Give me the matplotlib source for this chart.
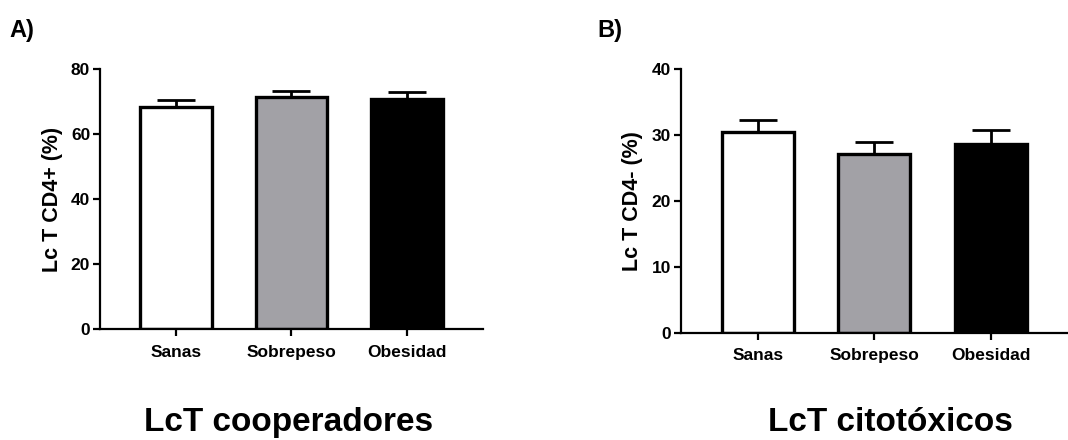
import matplotlib
matplotlib.use("Agg")
import matplotlib.pyplot as plt

plt.rcParams.update({
    'font.family': ['Liberation Sans', 'DejaVu Sans'],
    'font.weight': 'bold',
    'axes.labelweight': 'bold',
})

groups = ["Sanas", "Sobrepeso", "Obesidad"]
bar_colors = ["white", "#a2a1a6", "black"]

# LcT cooperadores (CD4+)
cd4_pos_mean = [68.3, 71.3, 70.8]
cd4_pos_err = [2.2, 2.0, 2.1]

# LcT citotoxicos (CD4-)
cd4_neg_mean = [30.45, 27.15, 28.7]
cd4_neg_err = [1.85, 1.75, 2.1]


def bar_panel(ax, means, errs, ymax, ystep, ylabel):
    x = range(len(groups))
    # one-sided (upper) error bars, GraphPad style
    ax.errorbar(x, means, yerr=[[0] * len(errs), errs], fmt='none',
                ecolor='black', elinewidth=2, capsize=13.5, capthick=2, zorder=1)
    ax.bar(x, means, width=0.62, color=bar_colors, edgecolor='black',
           linewidth=2.4, zorder=2)
    ax.set_xlim(-0.66, 2.66)
    ax.set_ylim(0, ymax)
    ax.set_yticks(range(0, ymax + 1, ystep))
    ax.set_xticks(list(x))
    ax.set_xticklabels(groups)
    ax.set_ylabel(ylabel, fontsize=15.5, labelpad=6)
    for s in ['top', 'right']:
        ax.spines[s].set_visible(False)
    for s in ['left', 'bottom']:
        ax.spines[s].set_linewidth(1.6)
    ax.tick_params(axis='y', labelsize=12.5, width=1.6, length=5, pad=2)
    ax.tick_params(axis='x', labelsize=12.5, width=1.6, length=5, pad=6)


fig = plt.figure(figsize=(10.68, 4.4), dpi=100)
ax1 = fig.add_axes([0.0936, 0.2516, 0.3586, 0.5916])
ax2 = fig.add_axes([0.6374, 0.2439, 0.3624, 0.5986])

bar_panel(ax1, cd4_pos_mean, cd4_pos_err, 80, 20, "Lc T CD4+ (%)")
bar_panel(ax2, cd4_neg_mean, cd4_neg_err, 40, 10, "Lc T CD4- (%)")

fig.text(0.009, 0.915, "A)", fontsize=17, fontweight='bold')
fig.text(0.559, 0.915, "B)", fontsize=17, fontweight='bold')
fig.text(0.27, 0.02, "LcT cooperadores", fontsize=24, fontweight='bold', ha='center')
fig.text(0.834, 0.02, "LcT citotóxicos", fontsize=24, fontweight='bold', ha='center')

fig.savefig("out.png", dpi=100)
